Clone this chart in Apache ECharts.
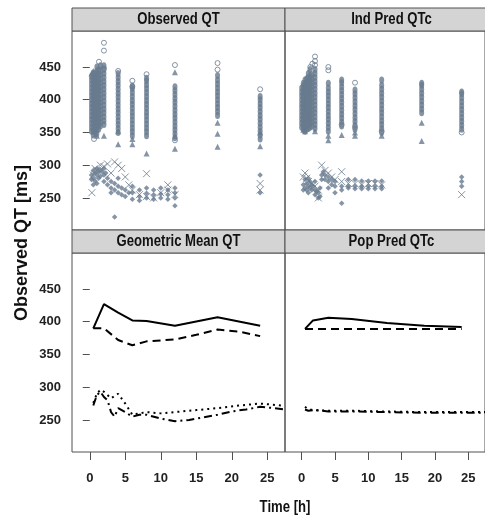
<!DOCTYPE html>
<html>
<head>
<meta charset="utf-8">
<script src="https://cdn.jsdelivr.net/npm/echarts@6/dist/echarts.min.js"></script>
<style>
html, body { margin: 0; padding: 0; background: #fff; }
#main { width: 485px; height: 521px; }
</style>
</head>
<body>
<div id="main"></div>
<script>
// panel titles and tick labels
var panelTitles = ['Observed QT', 'Ind Pred QTc', 'Geometric Mean QT', 'Pop Pred QTc'];
var yTicks = [250, 300, 350, 400, 450];
var xTicks = [0, 5, 10, 15, 20, 25];

// Observed QT: dense columns (time)
var obsBodyTimes = [0.25, 0.5, 0.75, 1, 1.25, 1.5, 2, 4, 6, 8, 12, 18, 24];
var obsBodyVals = [
    [352, 358, 364, 370, 376, 382, 388, 394, 400, 406, 412, 418, 424, 430, 436],
    [346, 352, 358, 364, 370, 376, 382, 388, 394, 400, 406, 412, 418, 424, 430, 436, 441],
    [350, 356, 362, 368, 374, 380, 386, 392, 398, 404, 410, 416, 422, 428, 434, 440],
    [348, 354, 360, 366, 372, 378, 384, 390, 396, 402, 408, 414, 420, 426, 432, 438, 444, 450],
    [355, 361, 367, 373, 379, 385, 391, 397, 403, 409, 415, 421, 427, 433, 439, 446],
    [360, 366, 372, 378, 384, 390, 396, 402, 408, 414, 420, 426, 432, 438, 444, 452],
    [362, 368, 374, 380, 386, 392, 398, 404, 410, 416, 422, 428, 434, 440, 446, 452],
    [350, 356, 362, 368, 374, 380, 386, 392, 398, 404, 410, 416, 422, 428, 434, 440],
    [345, 351, 357, 363, 369, 375, 381, 387, 393, 399, 405, 411, 417, 421],
    [345, 351, 357, 363, 369, 375, 381, 387, 393, 399, 405, 411, 417, 423, 429, 433],
    [342, 348, 354, 360, 366, 372, 378, 384, 390, 396, 402, 408, 414, 420],
    [376, 382, 388, 394, 400, 406, 412, 418, 424, 430, 437],
    [340, 346, 352, 358, 364, 370, 376, 382, 388, 394, 400, 405]
];
var obsCircle = [[0.6, 340], [1.3, 458], [2, 487], [2, 475], [2, 448], [4, 444], [6, 429], [6, 420],
    [8, 439], [12, 453], [12, 338], [18, 456], [18, 446], [24, 416]];
var obsTri = [[0.25, 440], [0.5, 444], [1, 345], [2, 345], [4, 332], [4, 352], [6, 340], [6, 332],
    [8, 318], [12, 442], [12, 325], [12, 345], [18, 365], [18, 348], [18, 328], [24, 329], [24, 350]];
var obsCross = [[0.3, 258], [0.5, 285], [0.75, 295], [1, 292], [1.5, 300], [2, 298], [2.5, 302], [3, 288],
    [3.5, 305], [4, 300], [4.5, 295], [5, 282], [5.5, 270], [6, 262], [7, 255], [8, 287], [8, 252],
    [9, 250], [10, 258], [11, 270], [11, 262], [12, 255], [24, 272], [24, 262]];
var obsDiamond = [[0.25, 285], [0.25, 278], [0.5, 292], [0.5, 280], [0.5, 270], [0.75, 288], [0.75, 276],
    [1, 295], [1, 285], [1, 272], [1.25, 290], [1.25, 280], [1.5, 293], [1.5, 283], [1.75, 290],
    [2, 295], [2, 285], [2, 275], [2.25, 288], [2.5, 280], [2.5, 270], [3, 275], [3, 265], [3, 258],
    [3.5, 272], [3.5, 262], [3.5, 221], [4, 280], [4, 268], [4, 258], [4.5, 265], [4.5, 255],
    [5, 262], [5, 252], [5.5, 258], [6, 268], [6, 258], [6, 248], [7, 262], [7, 252], [7, 246],
    [8, 265], [8, 257], [8, 250], [9, 262], [9, 255], [9, 248], [10, 265], [10, 256], [10, 250],
    [11, 262], [11, 255], [11, 248], [12, 265], [12, 258], [12, 250], [12, 238], [24, 285], [24, 258]];

// Ind Pred QTc
var ipBodyTimes = [0, 0.25, 0.5, 0.75, 1, 1.25, 1.5, 2, 4, 6, 8, 12, 18, 24];
var ipBodyVals = [
    [358, 364, 370, 376, 382, 388, 394, 400, 406, 412, 418],
    [355, 361, 367, 373, 379, 385, 391, 397, 403, 409, 415, 421, 425],
    [352, 358, 364, 370, 376, 382, 388, 394, 400, 406, 412, 418, 424, 430],
    [355, 361, 367, 373, 379, 385, 391, 397, 403, 409, 415, 421, 427, 432],
    [356, 362, 368, 374, 380, 386, 392, 398, 404, 410, 416, 422, 428, 434, 440],
    [358, 364, 370, 376, 382, 388, 394, 400, 406, 412, 418, 424, 430, 436, 446],
    [360, 366, 372, 378, 384, 390, 396, 402, 408, 414, 420, 426, 432, 438],
    [356, 362, 368, 374, 380, 386, 392, 398, 404, 410, 416, 422, 428, 434, 440, 446],
    [352, 358, 364, 370, 376, 382, 388, 394, 400, 406, 412, 418, 425],
    [360, 366, 372, 378, 384, 390, 396, 402, 408, 414, 420, 426, 430],
    [355, 361, 367, 373, 379, 385, 391, 397, 403, 409, 415],
    [350, 356, 362, 368, 374, 380, 386, 392, 398, 404, 410, 416, 422, 430],
    [380, 386, 392, 398, 404, 410, 416, 422, 425],
    [355, 361, 367, 373, 379, 385, 391, 397, 403, 409, 412]
];
var ipCircle = [[1.3, 450], [1.6, 455], [2, 466], [2, 459], [2, 453], [4, 450], [4, 445], [6, 362],
    [8, 426], [8, 358], [12, 352], [24, 350]];
var ipTri = [[0.25, 354], [0.5, 352], [2, 352], [4, 345], [4, 338], [6, 346], [8, 350], [8, 345],
    [12, 345], [18, 365], [18, 337]];
var ipCross = [[0.25, 282], [0.5, 288], [0.75, 280], [1, 275], [1.5, 272], [2, 268], [2.5, 262], [3, 300],
    [3.5, 292], [4, 288], [4.5, 282], [5, 278], [6, 290], [6, 275], [7, 272], [8, 272], [9, 270],
    [10, 272], [11, 272], [12, 270], [24, 255], [2.5, 250]];
var ipDiamond = [[0.25, 270], [0.25, 262], [0.5, 278], [0.5, 265], [0.75, 272], [0.75, 262], [1, 280],
    [1, 268], [1, 258], [1.25, 275], [1.25, 265], [1.5, 270], [1.5, 262], [1.75, 268], [2, 275],
    [2, 262], [2, 255], [2.25, 260], [2.5, 258], [2.5, 250], [2.75, 265], [2.75, 252], [3, 285],
    [3, 278], [3.25, 290], [3.5, 285], [3.5, 278], [4, 282], [4, 275], [4, 265], [4.5, 278],
    [4.5, 270], [5, 275], [5, 268], [5, 258], [6, 268], [6, 262], [6, 242], [7, 278], [7, 268],
    [7, 265], [8, 278], [8, 268], [8, 264], [9, 276], [9, 268], [9, 264], [10, 276], [10, 268],
    [10, 264], [11, 276], [11, 268], [11, 264], [12, 276], [12, 268], [12, 264], [24, 282],
    [24, 275], [24, 268]];

// Geometric Mean QT lines
var gmSolid = [[0.5, 390], [2, 427], [4, 414], [6, 402], [8, 401], [12, 394], [18, 407], [24, 394]];
var gmDashed = [[0.5, 390], [2, 390], [4, 372], [6, 364], [8, 370], [12, 373], [15, 380], [18, 388], [21, 385], [24, 378]];
var gmDotted = [[0.5, 276], [1, 290], [1.5, 296], [2, 293], [3, 283], [4, 290], [5, 275], [6, 258],
    [8, 262], [10, 260], [12, 262], [15, 265], [18, 268], [21, 272], [24, 275], [27, 272]];
var gmDashDot = [[0.5, 272], [1, 288], [1.5, 293], [2, 285], [2.5, 280], [3, 262], [3.5, 255], [4, 268],
    [5, 262], [6, 255], [7, 258], [8, 258], [10, 252], [12, 248], [14, 250], [16, 254], [18, 258],
    [20, 263], [22, 266], [24, 270], [26, 268], [27.5, 266]];

// Pop Pred QTc lines
var ppSolid = [[0.5, 389], [1.7, 402], [4, 406], [7.5, 404], [12.8, 398], [18.4, 394], [24, 392]];
var ppDashed = [[0.5, 389], [6, 389], [12, 389], [18, 389], [24, 389]];
var ppDotted = [[0.5, 270], [1, 266], [2, 265], [4, 264], [6, 264], [8, 264], [12, 263], [18, 262], [24, 262], [27.5, 262]];
var ppDashDot = [[0.5, 266], [1, 264], [2, 265], [4, 263], [8, 263], [12, 262], [18, 261], [24, 261], [27.5, 261]];

var ptColor = '#687a8e';
var sans = "'Liberation Sans', Arial, sans-serif";
var crossPath = 'path://M0,0L10,10M10,0L0,10';

function bodyPoints(times, vals) {
    var out = [];
    for (var i = 0; i < times.length; i++) {
        for (var j = 0; j < vals[i].length; j++) {
            out.push([times[i], vals[i][j]]);
        }
    }
    return out;
}

// panel boxes: left 72, middle 285, rows 31-230 and 253-452
var grids = [
    { left: 72, top: 31, width: 213, height: 199 },
    { left: 285, top: 31, width: 213, height: 199 },
    { left: 72, top: 253, width: 213, height: 199 },
    { left: 285, top: 253, width: 213, height: 199 }
];
grids.forEach(function (g) {
    g.show = true;
    g.borderColor = '#505050';
    g.borderWidth = 1;
    g.backgroundColor = 'transparent';
});

function xAx(i, bottom) {
    return {
        type: 'value', gridIndex: i, min: -2.5, max: 27.5,
        axisLine: { show: false }, splitLine: { show: false },
        axisTick: { show: bottom, customValues: xTicks, length: 8, lineStyle: { color: '#505050' } },
        axisLabel: { show: bottom, customValues: xTicks, margin: 20, color: '#222', fontWeight: 'bold', fontSize: 13, fontFamily: sans }
    };
}
function yAx(i, left) {
    return {
        type: 'value', gridIndex: i, min: 201, max: 505,
        axisLine: { show: false }, splitLine: { show: false },
        axisTick: { show: left, customValues: yTicks, length: 7, lineStyle: { color: '#505050' } },
        axisLabel: { show: left, customValues: yTicks, margin: 11, color: '#222', fontWeight: 'bold', fontSize: 13, fontFamily: sans }
    };
}

function scat(i, data, symbol, size, filled) {
    return {
        type: 'scatter', xAxisIndex: i, yAxisIndex: i, data: data,
        symbol: symbol, symbolSize: size, silent: true,
        itemStyle: filled
            ? { color: ptColor }
            : { color: 'transparent', borderColor: ptColor, borderWidth: 1 }
    };
}
function line(i, data, type) {
    return {
        type: 'line', xAxisIndex: i, yAxisIndex: i, data: data,
        symbol: 'none', silent: true,
        lineStyle: { color: '#000', width: 2, type: type }
    };
}

var series = [
    scat(0, bodyPoints(obsBodyTimes, obsBodyVals), 'circle', [5, 7], true),
    scat(0, obsCircle, 'circle', 5, false),
    scat(0, obsTri, 'triangle', 6, true),
    scat(0, obsDiamond, 'diamond', 5.5, true),
    scat(0, obsCross, crossPath, 7, false),
    scat(1, bodyPoints(ipBodyTimes, ipBodyVals), 'circle', [5, 7], true),
    scat(1, ipCircle, 'circle', 5, false),
    scat(1, ipTri, 'triangle', 6, true),
    scat(1, ipDiamond, 'diamond', 5.5, true),
    scat(1, ipCross, crossPath, 7, false),
    line(2, gmSolid, 'solid'),
    line(2, gmDashed, [8, 5]),
    line(2, gmDotted, [2, 4]),
    line(2, gmDashDot, [8, 4, 2, 4]),
    line(3, ppSolid, 'solid'),
    line(3, ppDashed, [8, 5]),
    line(3, ppDotted, [2, 4]),
    line(3, ppDashDot, [8, 4, 2, 4])
];

// strip headers
var strips = [];
grids.forEach(function (g, i) {
    strips.push({
        type: 'rect',
        shape: { x: g.left, y: g.top - 23, width: g.width, height: 23 },
        style: { fill: '#d4d4d4', stroke: '#505050', lineWidth: 1 }
    });
    strips.push({
        type: 'text',
        x: g.left + g.width / 2, y: g.top - 11.5, scaleX: 0.82,
        style: {
            text: panelTitles[i], fill: '#111', font: 'bold 16px ' + sans,
            align: 'center', verticalAlign: 'middle'
        }
    });
});
strips.push({
    type: 'text', x: 22, y: 243, rotation: Math.PI / 2,
    style: { text: 'Observed QT [ms]', fill: '#111', font: 'bold 18px ' + sans, align: 'center', verticalAlign: 'middle' }
});
strips.push({
    type: 'text', x: 285, y: 508, scaleX: 0.82,
    style: { text: 'Time [h]', fill: '#111', font: 'bold 16px ' + sans, align: 'center', verticalAlign: 'middle' }
});

var myChart = echarts.init(document.getElementById('main'));
myChart.setOption({
    animation: false,
    backgroundColor: '#fff',
    grid: grids,
    xAxis: [xAx(0, false), xAx(1, false), xAx(2, true), xAx(3, true)],
    yAxis: [yAx(0, true), yAx(1, false), yAx(2, true), yAx(3, false)],
    series: series,
    graphic: strips
});
</script>
</body>
</html>
